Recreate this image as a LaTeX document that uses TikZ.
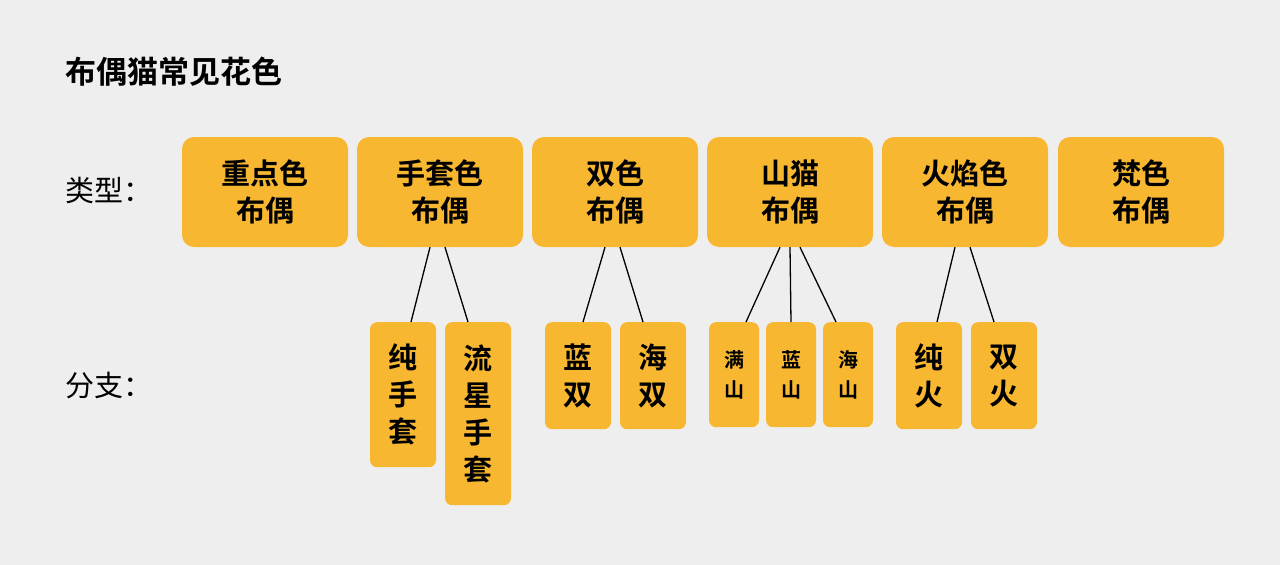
\documentclass[tikz,border=0pt]{standalone}
\usepackage{fontspec}
\setmainfont{Noto Sans CJK SC}
\newfontfamily\cjkbold{Noto Sans CJK SC Bold}
\usetikzlibrary{positioning}
\definecolor{bg}{HTML}{EEEEEE}
\definecolor{catorange}{HTML}{F7B731}
\begin{document}
\begin{tikzpicture}[x=1pt,y=-1pt,
    kind/.style={rectangle, rounded corners=12pt, fill=catorange, minimum width=166pt, minimum height=110pt, align=center, font=\cjkbold\fontsize{29}{37}\selectfont},
    branch/.style={rectangle, rounded corners=7pt, fill=catorange, minimum width=66pt, anchor=north, align=center, font=\cjkbold\fontsize{29}{37}\selectfont},
    smallbranch/.style={branch, minimum width=50pt, minimum height=105pt, font=\cjkbold\fontsize{20}{30}\selectfont},
    link/.style={draw=black, line width=1.3pt}
]
\fill[bg] (0,0) rectangle (1280,565);
\useasboundingbox (0,0) rectangle (1280,565);

\node[anchor=west, font=\cjkbold\fontsize{31}{36}\selectfont] (title) at (62,72) {布偶猫常见花色};
\node[anchor=west, font=\fontsize{29}{34}\selectfont] (rowkind) at (62,190) {类型：};
\node[anchor=west, font=\fontsize{29}{34}\selectfont] (rowbranch) at (62,386) {分支：};

% Types
\node[kind] (point) at (265,192) {重点色\\布偶};
\node[kind] (mitted) at (440,192) {手套色\\布偶};
\node[kind] (bicolor) at (615,192) {双色\\布偶};
\node[kind] (lynx) at (790,192) {山猫\\布偶};
\node[kind] (flame) at (965,192) {火焰色\\布偶};
\node[kind] (sepia) at (1141,192) {梵色\\布偶};

% Branches
\node[branch, minimum height=145pt] (puremitt) at (403,322) {纯\\手\\套};
\node[branch, minimum height=183pt] (blazemitt) at (478,322) {流\\星\\手\\套};
\node[branch, minimum height=107pt] (bluebi) at (578,322) {蓝\\双};
\node[branch, minimum height=107pt] (seabi) at (653,322) {海\\双};
\node[smallbranch] (fulllynx) at (734,322) {满\\山};
\node[smallbranch] (bluelynx) at (791,322) {蓝\\山};
\node[smallbranch] (sealynx) at (848,322) {海\\山};
\node[branch, minimum height=107pt] (pureflame) at (929,322) {纯\\火};
\node[branch, minimum height=107pt] (biflame) at (1004,322) {双\\火};

% Links
\draw[link] ([xshift=-10pt]mitted.south) -- ([xshift=8pt]puremitt.north);
\draw[link] ([xshift=5pt]mitted.south) -- ([xshift=-10pt]blazemitt.north);
\draw[link] ([xshift=-10pt]bicolor.south) -- ([xshift=5pt]bluebi.north);
\draw[link] ([xshift=5pt]bicolor.south) -- ([xshift=-10pt]seabi.north);
\draw[link] ([xshift=-10pt]lynx.south) -- ([xshift=12pt]fulllynx.north);
\draw[link] (lynx.south) -- (bluelynx.north);
\draw[link] ([xshift=10pt]lynx.south) -- ([xshift=-12pt]sealynx.north);
\draw[link] ([xshift=-10pt]flame.south) -- ([xshift=8pt]pureflame.north);
\draw[link] ([xshift=5pt]flame.south) -- ([xshift=-10pt]biflame.north);
\end{tikzpicture}
\end{document}
